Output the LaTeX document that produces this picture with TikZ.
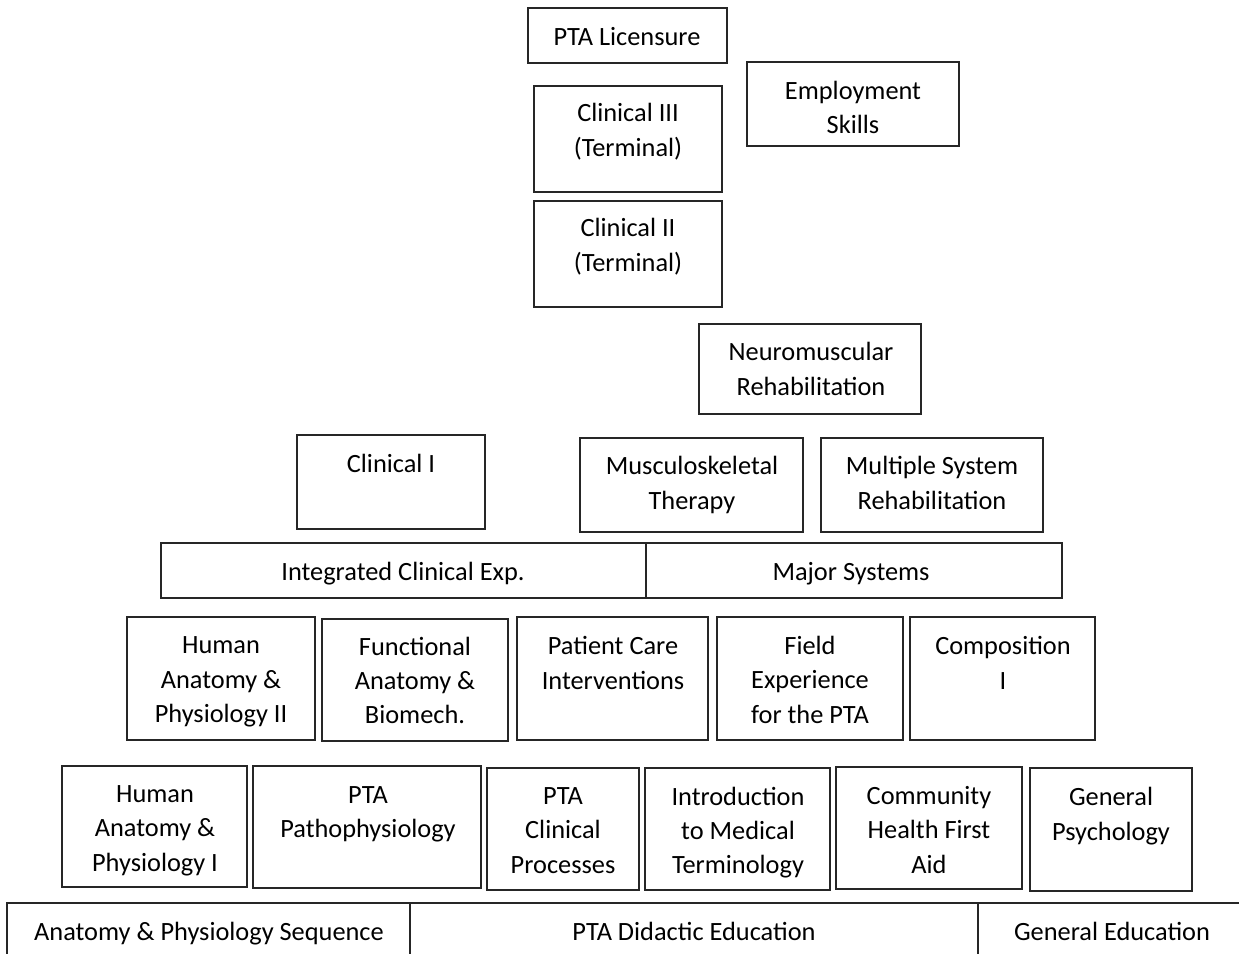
\documentclass[tikz,border=0pt]{standalone}
\usepackage{fontspec}
\setmainfont{Carlito}
\usepackage{tikz}
\usetikzlibrary{calc}

\tikzset{
  box/.style={draw=black!85, line width=1.1pt},
  lbl/.style={align=center, inner sep=0pt, yshift=-0.1cm, font=\fontsize{15}{19.6}\selectfont,
    execute at begin node=\strut, execute at end node=\strut}
}

\begin{document}
\begin{tikzpicture}[x=0.02cm,y=-0.02cm]
        \useasboundingbox (0,0) rectangle (1239,953);

        %clinical and licensure
        \draw[box] (528,8) rectangle (727,63);
        \draw[box] (534,86) rectangle (722,192);
        \draw[box] (747,62) rectangle (959,146);
        \draw[box] (534,201) rectangle (722,307);
        \node[lbl] (lic) at (627,34) {PTA Licensure};
        \node[lbl] (clinthree) at (628,130) {Clinical III\\(Terminal)};
        \node[lbl] (emp) at (853,107.5) {Employment\\Skills};
        \node[lbl] (clintwo) at (628,245) {Clinical II\\(Terminal)};

        %major systems courses
        \draw[box] (699,324) rectangle (921,414);
        \draw[box] (297,435) rectangle (485,529);
        \draw[box] (580,438) rectangle (803,532);
        \draw[box] (821,438) rectangle (1043,532);
        \node[lbl] (neuro) at (811,369) {Neuromuscular\\Rehabilitation};
        \node[lbl] (clinone) at (391,461) {Clinical I};
        \node[lbl] (musc) at (692,483) {Musculoskeletal\\Therapy};
        \node[lbl] (multi) at (932,483) {Multiple System\\Rehabilitation};

        %groups
        \draw[box] (161,543) rectangle (646,598);
        \draw[box] (646,543) rectangle (1062,598);
        \node[lbl] (integ) at (403,569) {Integrated Clinical Exp.};
        \node[lbl] (major) at (851,569) {Major Systems};

        %second level
        \draw[box] (127,617) rectangle (315,740);
        \draw[box] (322,619) rectangle (508,741);
        \draw[box] (517,617) rectangle (708,740);
        \draw[box] (717,617) rectangle (903,740);
        \draw[box] (910,617) rectangle (1095,740);
        \node[lbl] (haptwo) at (221,680) {Human\\Anatomy \&\\Physiology II};
        \node[lbl] (func) at (415,680.5) {Functional\\Anatomy \&\\Biomech.};
        \node[lbl] (pcare) at (613,663) {Patient Care\\Interventions};
        \node[lbl] (field) at (810,680) {Field\\Experience\\for the PTA};
        \node[lbl] (comp) at (1003,663) {Composition\\I};

        %first level
        \draw[box] (62,766) rectangle (247,887);
        \draw[box] (253,766) rectangle (481,888);
        \draw[box] (487,768) rectangle (639,890);
        \draw[box] (645,768) rectangle (830,890);
        \draw[box] (836,767) rectangle (1022,889);
        \draw[box] (1030,768) rectangle (1192,891);
        \node[lbl] (hapone) at (155,828.5) {Human\\Anatomy \&\\Physiology I};
        \node[lbl] (patho) at (368,812) {PTA\\Pathophysiology};
        \node[lbl] (clinproc) at (563,830.5) {PTA\\Clinical\\Processes};
        \node[lbl] (intro) at (738,830.5) {Introduction\\to Medical\\Terminology};
        \node[lbl] (comm) at (929,830) {Community\\Health First\\Aid};
        \node[lbl] (psych) at (1111,814) {General\\Psychology};

        %sequences
        \draw[box] (7,903) rectangle (410,965);
        \draw[box] (410,903) rectangle (978,965);
        \draw[box] (978,903) rectangle (1250,965);
        \node[lbl] (apseq) at (209,929) {Anatomy \& Physiology Sequence};
        \node[lbl] (didactic) at (694,929) {PTA Didactic Education};
        \node[lbl] (gened) at (1112,929) {General Education};

    \end{tikzpicture}
\end{document}
